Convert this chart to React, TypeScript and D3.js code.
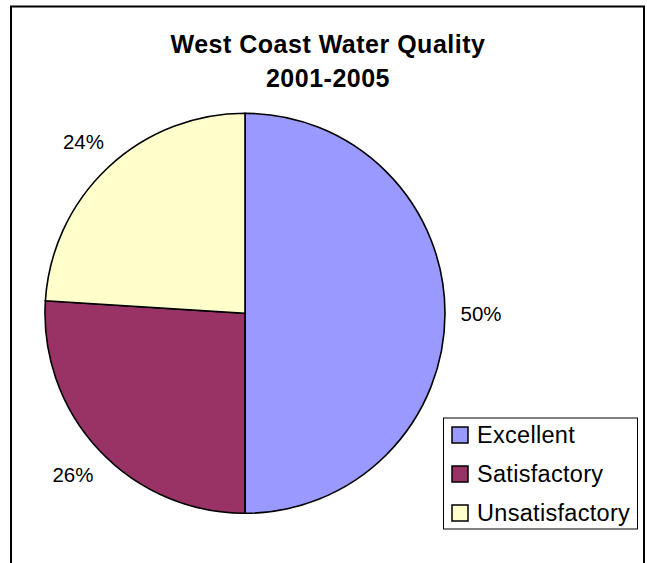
import React from "react";
import * as d3 from "d3";

const categories = ["Excellent", "Satisfactory", "Unsatisfactory"];
const values = [50, 26, 24];
const colors = ["#9999FF", "#993366", "#FFFFCC"];
const titleLines = ["West Coast Water Quality", "2001-2005"];

const W = 647;
const H = 563;
const FONT = "'Liberation Sans', Arial, Helvetica, sans-serif";

export default function App() {
  const cx = 245;
  const cy = 313.3;
  const r = 200;
  const labelR = 236;

  const pie = d3
    .pie<number>()
    .sort(null)
    .value((d) => d)
    .startAngle(0)
    .endAngle(2 * Math.PI);
  const arcs = pie(values);
  const arc = d3.arc<d3.PieArcDatum<number>>().innerRadius(0).outerRadius(r);
  const total = d3.sum(values);

  const legendX = 443.5;
  const legendY = 418;
  const legendW = 194;
  const legendH = 111;
  const rowStep = 39;

  return (
    <svg
      width={W}
      height={H}
      style={{ position: "absolute", left: 0, top: 0, background: "#fff" }}
      fontFamily={FONT}
    >
      <rect x={0} y={0} width={W} height={H} fill="#fff" />
      <rect x={11} y={6.5} width={633} height={620} fill="#fff" stroke="#000" strokeWidth={2} />
      {titleLines.map((t, i) => (
        <text
          key={t}
          x={328}
          y={52.7 + i * 34}
          textAnchor="middle"
          fontWeight="bold"
          fontSize={25}
          letterSpacing={0.5}
          fill="#000"
        >
          {t}
        </text>
      ))}
      <g transform={`translate(${cx},${cy})`}>
        {arcs.map((a, i) => (
          <path
            key={categories[i]}
            d={arc(a) || ""}
            fill={colors[i]}
            stroke="#000"
            strokeWidth={1.6}
            strokeLinejoin="miter"
          />
        ))}
        {arcs.map((a, i) => {
          const mid = (a.startAngle + a.endAngle) / 2;
          const x = Math.sin(mid) * labelR;
          const y = -Math.cos(mid) * labelR;
          return (
            <text
              key={"l" + i}
              x={x}
              y={y + 7.5}
              textAnchor="middle"
              fontSize={20.5}
              fill="#000"
            >
              {`${Math.round((values[i] / total) * 100)}%`}
            </text>
          );
        })}
      </g>
      <rect
        x={legendX}
        y={legendY}
        width={legendW}
        height={legendH}
        fill="#fff"
        stroke="#000"
        strokeWidth={1}
      />
      {categories.map((c, i) => (
        <g key={c} transform={`translate(${legendX + 8.5},${legendY + 9 + i * rowStep})`}>
          <rect x={0} y={0} width={16} height={16} fill={colors[i]} stroke="#000" strokeWidth={1.5} />
          <text x={25} y={16} fontSize={23.5} letterSpacing={0.3} fill="#000">
            {c}
          </text>
        </g>
      ))}
    </svg>
  );
}
